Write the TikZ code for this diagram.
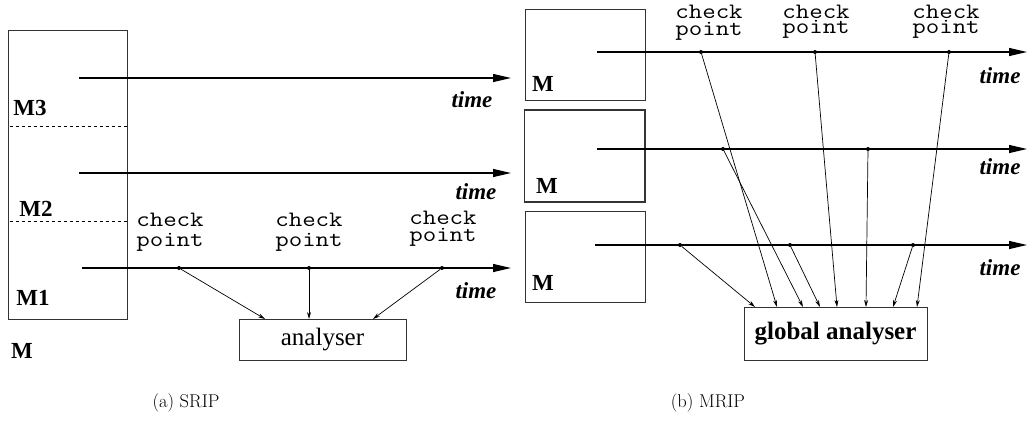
\documentclass[tikz,border=0pt]{standalone}
\usepackage{fontspec}
\newfontfamily\tms{Liberation Serif}
\newcommand\ckpt[1]{\scalebox{1.19}[1]{#1}}
\usetikzlibrary{arrows.meta}
\begin{document}
\begin{tikzpicture}[x=1pt,y=-1pt,
  box/.style={draw=black!80,line width=1pt},
  timeline/.style={line width=1.2pt,-{Triangle[length=18pt,width=8pt]}},
  feed/.style={line width=0.7pt,-{Stealth[length=7pt,width=4pt]}},
  dot/.style={circle,fill=black,inner sep=0pt,minimum size=4pt},
  tlabel/.style={font=\tms\bfseries\itshape\fontsize{23}{25}\selectfont,inner sep=0pt},
  mlabel/.style={font=\tms\bfseries\fontsize{23}{25}\selectfont,inner sep=0pt},
  cp/.style={font=\ttfamily\fontsize{22}{24}\selectfont,inner sep=0pt,anchor=base},
  captext/.style={font=\fontsize{18.5}{20}\selectfont,inner sep=0pt}]
\useasboundingbox (0,0) rectangle (1027,432);
% ---------- (a) SRIP ----------
\draw[box] (8,30) rectangle (127,319);
\draw[dashed,line width=0.8pt] (10,126) -- (127,126);
\draw[dashed,line width=0.8pt] (10,221) -- (127,221);
\node[mlabel] (m3) at (30,108) {M3};
\node[mlabel] (m2) at (36,209) {M2};
\node[mlabel] (m1) at (33,298) {M1};
\node[mlabel] (mm) at (22,351) {M};
\coordinate (a1s) at (79,78);  \coordinate (a1e) at (511,78);
\coordinate (a2s) at (79,173); \coordinate (a2e) at (511,173);
\coordinate (a3s) at (82,268); \coordinate (a3e) at (511,268);
\draw[timeline] (a1s) -- (a1e);
\draw[timeline] (a2s) -- (a2e);
\draw[timeline] (a3s) -- (a3e);
\node[tlabel] (t1) at (472,100) {time};
\node[tlabel] (t2) at (476,192) {time};
\node[tlabel] (t3) at (476,291) {time};
\node[cp] (ca1c) at (170,226.5) {\ckpt{check}};
\node[cp] (ca1p) at (170,246.5) {\ckpt{point}};
\node[cp] (ca2c) at (309,226) {\ckpt{check}};
\node[cp] (ca2p) at (309,246) {\ckpt{point}};
\node[cp] (ca3c) at (443,224) {\ckpt{check}};
\node[cp] (ca3p) at (443,241.5) {\ckpt{point}};
\node[dot] (d1) at (179,268) {};
\node[dot] (d2) at (309,268) {};
\node[dot] (d3) at (442,268) {};
\node[draw=black!80,line width=1pt,minimum width=167pt,minimum height=41pt,inner sep=0pt,
      font=\tms\fontsize{25}{27}\selectfont] (an) at (322.5,339.5) {analyser};
\coordinate (an1) at (265,319);
\coordinate (an2) at (309,319);
\coordinate (an3) at (373,319);
\draw[feed] (d1) -- (an1);
\draw[feed] (d2) -- (an2);
\draw[feed] (d3) -- (an3);
\node[captext] (capa) at (186,403) {(a) SRIP};
% ---------- (b) MRIP ----------
\draw[box] (525,9) rectangle (645,100);
\draw[box,line width=1.6pt] (524.5,110) rectangle (645,202);
\draw[box] (525,211) rectangle (645,302);
\node[mlabel] (r1) at (543,84) {M};
\node[mlabel] (r2) at (547,186) {M};
\node[mlabel] (r3) at (543,283) {M};
\coordinate (b1s) at (597,52);  \coordinate (b1e) at (1027,52);
\coordinate (b2s) at (597,149); \coordinate (b2e) at (1027,149);
\coordinate (b3s) at (595,245); \coordinate (b3e) at (1027,245);
\draw[timeline] (b1s) -- (b1e);
\draw[timeline] (b2s) -- (b2e);
\draw[timeline] (b3s) -- (b3e);
\node[tlabel] (u1) at (1000,76) {time};
\node[tlabel] (u2) at (1000,167) {time};
\node[tlabel] (u3) at (1000,268) {time};
\node[cp] (cb1c) at (709,18.3) {\ckpt{check}};
\node[cp] (cb1p) at (709,35.5) {\ckpt{point}};
\node[cp] (cb2c) at (816,18) {\ckpt{check}};
\node[cp] (cb2p) at (816,33.5) {\ckpt{point}};
\node[cp] (cb3c) at (946,18) {\ckpt{check}};
\node[cp] (cb3p) at (946,33.5) {\ckpt{point}};
\node[dot] (e1) at (701,52) {};
\node[dot] (e2) at (815,52) {};
\node[dot] (e3) at (949,52) {};
\node[dot] (f1) at (723,149) {};
\node[dot] (f2) at (868,149) {};
\node[dot] (g1) at (680,245) {};
\node[dot] (g2) at (790,245) {};
\node[dot] (g3) at (913,245) {};
\node[draw=black!80,line width=1pt,minimum width=183pt,minimum height=53pt,inner sep=0pt,
      font=\tms\bfseries\fontsize{25}{27}\selectfont] (ga) at (835.5,333.5) {global analyser};
\coordinate (h1) at (755,307);
\coordinate (h2) at (777,307);
\coordinate (h3) at (803,307);
\coordinate (h4) at (820,307);
\coordinate (h5) at (837,307);
\coordinate (h6) at (866,307);
\coordinate (h7) at (893,307);
\coordinate (h8) at (917,307);
\draw[feed] (g1) -- (h1);
\draw[feed] (e1) -- (h2);
\draw[feed] (f1) -- (h3);
\draw[feed] (g2) -- (h4);
\draw[feed] (e2) -- (h5);
\draw[feed] (f2) -- (h6);
\draw[feed] (g3) -- (h7);
\draw[feed] (e3) -- (h8);
\node[captext] (capb) at (708,403) {(b) MRIP};
\end{tikzpicture}
\end{document}
